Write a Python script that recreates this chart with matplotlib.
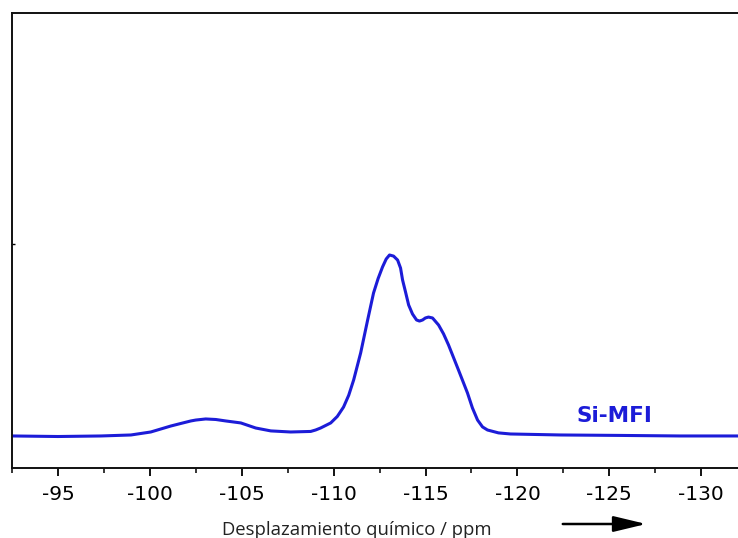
import matplotlib
matplotlib.use('Agg')
import matplotlib.pyplot as plt
import numpy as np

# Espectro RMN 29Si de la muestra Si-MFI (desplazamiento en ppm, intensidad relativa)
ppm = [-92.55, -95.0, -97.34, -98.97, -100.05, -101.14, -101.68, -102.23,
       -102.5, -103.04, -103.59, -104.13, -104.95, -105.76, -106.58, -107.66,
       -108.75, -109.02, -109.29, -109.84, -110.20, -110.54, -110.82, -111.09,
       -111.47, -111.85, -112.17, -112.42, -112.66, -112.86, -113.04,
       -113.26, -113.48, -113.64, -113.75, -113.91, -114.08, -114.29, -114.51,
       -114.67, -114.84, -114.99, -115.16, -115.38, -115.71, -115.98, -116.25,
       -116.79, -117.28, -117.55, -117.83, -118.10, -118.37, -118.97, -119.62,
       -122.34, -125.60, -128.86, -132.0]
intensidad = [0.0, -0.3, 0.0, 0.55, 2.2, 5.5, 6.9, 8.3,
              8.8, 9.4, 9.1, 8.3, 7.2, 4.4, 2.8, 2.2,
              2.5, 3.3, 4.4, 7.2, 10.8, 16.0, 22.5, 31.0,
              45.9, 64.1, 79.0, 87.0, 93.4, 97.8, 100.0,
              99.4, 97.2, 92.8, 86.2, 79.6, 72.4, 67.4, 64.1,
              63.5, 64.1, 65.2, 65.7, 65.2, 61.3, 56.4, 50.3,
              36.5, 23.8, 15.5, 8.8, 5.0, 3.3, 1.7, 1.1,
              0.55, 0.3, 0.0, 0.0]

xticks = [-95, -100, -105, -110, -115, -120, -125, -130]
etiqueta = 'Si-MFI'
xlabel = 'Desplazamiento químico / ppm'

AZUL = '#1c1cd8'

fig = plt.figure(figsize=(7.38, 5.38), dpi=100)
ax = fig.add_axes([12 / 738, 1 - 468 / 538, 1 - 12 / 738, (468 - 12.7) / 538])

ax.plot(ppm, intensidad, color=AZUL, linewidth=2.2,
        solid_joinstyle='round', solid_capstyle='round')

ax.set_xlim(-92.55, -132.0)
ax.set_ylim(-17.7, 233.9)

ax.set_xticks(xticks)
ax.set_xticklabels([str(t) for t in xticks], fontsize=14.5, family='DejaVu Sans')
ax.set_xticks(np.arange(-92.5, -132.5, -2.5), minor=True)
ax.tick_params(axis='x', which='major', direction='out', length=6, width=1.3, pad=6)
ax.tick_params(axis='x', which='minor', direction='out', length=3.5, width=1.1)

ax.set_yticks([106])
ax.set_yticklabels([])
ax.tick_params(axis='y', direction='in', length=2, width=1.0)

ax.spines['right'].set_visible(False)
for lado in ['left', 'top', 'bottom']:
    ax.spines[lado].set_linewidth(1.4)
    ax.spines[lado].set_color('#111111')

ax.text(-123.2, 7.7, etiqueta, color=AZUL, fontsize=15.5, fontweight='bold',
        family='DejaVu Sans', ha='left', va='baseline')

fig.text(222 / 738, 1 - 535 / 538, xlabel, fontsize=13.3, family='Open Sans',
         ha='left', va='baseline', color='#222222')

# flecha indicando el sentido del desplazamiento
fig.add_artist(matplotlib.patches.FancyArrowPatch(
    (560 / 738, 1 - 524 / 538), (649 / 738, 1 - 524 / 538),
    transform=fig.transFigure, arrowstyle='-|>,head_length=1.0,head_width=0.24',
    mutation_scale=20, color='black', linewidth=1.8))

plt.savefig('out.png', dpi=100)
